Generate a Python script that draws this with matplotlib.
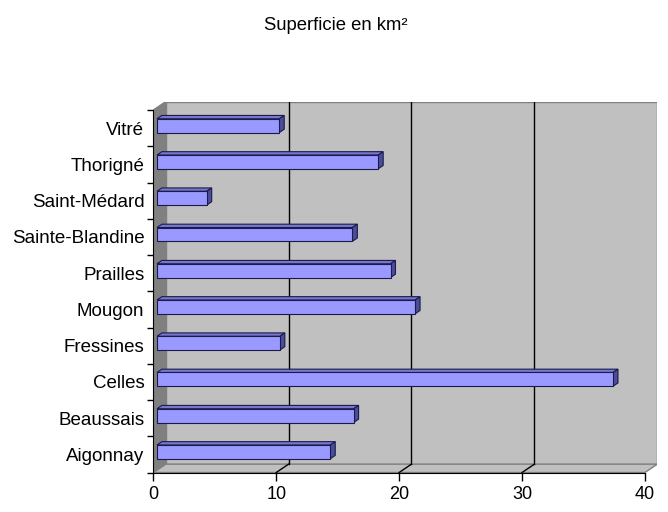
import matplotlib.pyplot as plt
from matplotlib.patches import Polygon

communes = ["Aigonnay", "Beaussais", "Celles", "Fressines", "Mougon",
            "Prailles", "Sainte-Blandine", "Saint-Médard", "Thorigné", "Vitré"]
superficie = [14.1, 16.0, 37.1, 10.0, 21.0, 19.0, 15.9, 4.05, 18.0, 9.95]
xticks = [0, 10, 20, 30, 40]
title = "Superficie en km²"

plt.rcParams['font.family'] = ['Liberation Sans', 'DejaVu Sans']

# depth of the fake 3d box, in data units
DX = 1.0
DY = 0.23
# front / back of the bars as fraction of the depth
f0, f1 = 0.3, 0.7
h = 0.19

xmax = xticks[-1]
n = len(communes)
y0, y1 = -0.5, n - 0.5

fig = plt.figure(figsize=(6.68, 5.12), dpi=100)
ax = fig.add_axes([153.3 / 668, 39.5 / 512, 504 / 668, 370.8 / 512])
ax.set_xlim(0, xmax + DX)
ax.set_ylim(y0, y1 + DY)

wall = '#c0c0c0'
edge = '#808080'
# back wall
ax.add_patch(Polygon([(DX, y0 + DY), (xmax + DX, y0 + DY), (xmax + DX, y1 + DY), (DX, y1 + DY)],
                     closed=True, facecolor=wall, edgecolor=edge, lw=1, zorder=1))
# floor
ax.add_patch(Polygon([(0, y0), (xmax, y0), (xmax + DX, y0 + DY), (DX, y0 + DY)],
                     closed=True, facecolor=wall, edgecolor=edge, lw=1, zorder=1))
# left wall
ax.add_patch(Polygon([(0, y0), (DX, y0 + DY), (DX, y1 + DY), (0, y1)],
                     closed=True, facecolor='#808080', edgecolor=edge, lw=1, zorder=1))

for v in xticks[1:-1]:
    ax.plot([v + DX, v + DX], [y0 + DY, y1 + DY], color='black', lw=1, zorder=2)
    ax.plot([v, v + DX], [y0, y0 + DY], color='black', lw=1, zorder=2)

for i in range(n - 1, -1, -1):
    v = superficie[i]
    xa, ya = f0 * DX, i + f0 * DY
    xb, yb = f1 * DX, i + f1 * DY
    front = [(xa, ya - h), (v + xa, ya - h), (v + xa, ya + h), (xa, ya + h)]
    top = [(xa, ya + h), (v + xa, ya + h), (v + xb, yb + h), (xb, yb + h)]
    side = [(v + xa, ya - h), (v + xb, yb - h), (v + xb, yb + h), (v + xa, ya + h)]
    ax.add_patch(Polygon(top, closed=True, facecolor='#7777cc', edgecolor='#1a1a4d', lw=0.8, zorder=3))
    ax.add_patch(Polygon(side, closed=True, facecolor='#4c4c99', edgecolor='#1a1a4d', lw=0.8, zorder=3))
    ax.add_patch(Polygon(front, closed=True, facecolor='#9999ff', edgecolor='#1a1a4d', lw=0.8, zorder=4))

for s in ['top', 'right']:
    ax.spines[s].set_visible(False)
ax.spines['left'].set_bounds(y0, y1)
ax.spines['bottom'].set_bounds(0, xmax)
ax.spines['left'].set_zorder(5)
ax.spines['bottom'].set_zorder(5)

ax.set_xticks(xticks)
ax.set_xticklabels([str(t) for t in xticks])
ax.tick_params(axis='x', length=5.4, width=1, labelsize=13, pad=4)
ax.set_yticks([k - 0.5 for k in range(n + 1)])
ax.set_yticklabels([])
ax.set_yticks(range(n), minor=True)
ax.set_yticklabels(communes, minor=True)
ax.tick_params(axis='y', which='major', length=4, width=1)
ax.tick_params(axis='y', which='minor', length=0, labelsize=13.5, pad=6.5)
for lab in ax.get_yticklabels(minor=True):
    lab.set_va('center_baseline')

fig.text(0.503, 1 - 25 / 512, title, ha='center', va='center', fontsize=13.3)

plt.savefig("out.png", dpi=100)
plt.close()
